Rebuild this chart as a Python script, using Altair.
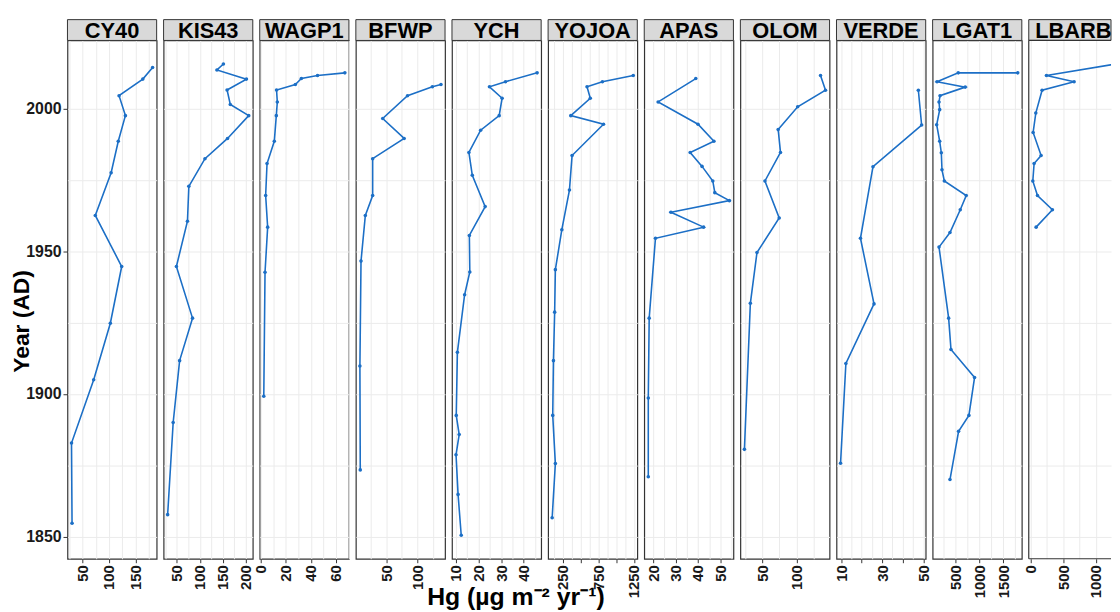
import json
import altair as alt
import pandas as pd

FONT = "Liberation Sans"
BLUE = "#1C6FC6"
BORDER = "#333333"

SITES = ["CY40", "KIS43", "WAGP1", "BFWP", "YCH", "YOJOA", "APAS", "OLOM", "VERDE", "LGAT1", "LBARB"]

cy40_year = [2014.5, 2010.4, 2004.6, 1997.6, 1988.6, 1977.6, 1962.6, 1944.7, 1924.8, 1905.0, 1882.8, 1854.7]
cy40_hg = [182.5, 164, 119, 131, 117.5, 104, 74, 124, 102.5, 71, 29, 30]

kis43_year = [2015.7, 2013.6, 2010.4, 2006.6, 2001.5, 1997.6, 1989.6, 1982.5, 1972.8, 1960.6, 1944.7, 1926.6, 1911.7, 1890.0, 1857.7]
kis43_hg = [151, 137, 201, 159, 166, 206, 160, 111, 76, 73, 49, 84, 56, 42, 30]

wagp1_year = [2012.6, 2011.7, 2010.6, 2008.5, 2006.6, 2002.4, 1997.6, 1988.6, 1980.8, 1969.6, 1958.5, 1942.7, 1899.2]
wagp1_hg = [67.1, 45.3, 32.4, 27.6, 12.6, 13.2, 12.4, 10.8, 5.0, 3.9, 5.5, 3.4, 2.4]

bfwp_year = [2008.5, 2007.7, 2004.6, 1996.6, 1989.6, 1982.5, 1969.6, 1962.6, 1946.6, 1909.8, 1873.4]
bfwp_hg = [138.5, 124.5, 84.2, 44.0, 78.8, 27.7, 27.7, 15.8, 8.8, 7.0, 7.6]

ych_year = [2012.6, 2009.5, 2007.7, 2003.7, 1997.6, 1992.5, 1984.7, 1976.7, 1965.7, 1955.6, 1942.8, 1934.8, 1914.6, 1892.5, 1885.8, 1878.7, 1864.8, 1850.5]
ych_hg = [45.9, 31.9, 24.8, 30.4, 29.1, 20.9, 15.7, 17.2, 22.9, 15.9, 16.1, 13.8, 10.6, 10.1, 11.4, 10.0, 10.9, 12.3]

yojoa_year = [2011.7, 2009.5, 2007.7, 2003.7, 1997.6, 1994.6, 1983.6, 1971.5, 1957.6, 1943.6, 1928.7, 1911.7, 1892.5, 1875.6, 1856.6]
yojoa_hg = [1240, 806, 590, 636, 362, 822, 380, 343, 236, 145, 135, 118, 108, 145, 100]

apas_year = [2010.6, 2002.4, 1994.6, 1988.6, 1984.7, 1979.8, 1974.7, 1970.6, 1967.8, 1963.7, 1958.5, 1954.6, 1926.6, 1898.6, 1871.0]
apas_hg = [39.0, 22.2, 40.0, 47.1, 36.5, 41.8, 46.6, 47.5, 54.0, 27.9, 42.5, 21.0, 18.2, 17.8, 17.8]

olom_year = [2011.7, 2006.5, 2000.7, 1992.7, 1984.7, 1974.7, 1961.7, 1949.6, 1931.8, 1880.6]
olom_hg = [135.4, 142.7, 101.9, 73.3, 76.7, 53.9, 74.8, 42.2, 32.5, 23.8]

verde_year = [2006.5, 1994.3, 1979.7, 1954.6, 1931.6, 1910.7, 1875.7]
verde_hg = [47.6, 49.2, 25.5, 19.4, 26.0, 12.3, 9.7]

lgat1_year = [2012.6, 2012.6, 2009.5, 2007.6, 2004.6, 2002.4, 1999.7, 1994.4, 1988.6, 1984.6, 1978.6, 1974.7, 1969.6, 1964.6, 1956.6, 1951.5, 1926.6, 1915.6, 1905.8, 1892.5, 1886.9, 1870.0]
lgat1_hg = [1806, 562, 118, 708, 181, 160, 174, 111, 174, 208, 222, 271, 729, 604, 389, 160, 361, 410, 903, 785, 569, 389]

lbarb_year = [2015.6, 2011.7, 2009.5, 2006.5, 1998.5, 1991.7, 1983.6, 1980.8, 1974.7, 1969.6, 1964.6, 1958.5]
lbarb_hg = [1280, 241, 667, 174, 77, 36, 159, 51, 31, 103, 333, 82]

YEARS = {"CY40": cy40_year, "KIS43": kis43_year, "WAGP1": wagp1_year, "BFWP": bfwp_year,
         "YCH": ych_year, "YOJOA": yojoa_year, "APAS": apas_year, "OLOM": olom_year,
         "VERDE": verde_year, "LGAT1": lgat1_year, "LBARB": lbarb_year}
HG = {"CY40": cy40_hg, "KIS43": kis43_hg, "WAGP1": wagp1_hg, "BFWP": bfwp_hg,
      "YCH": ych_hg, "YOJOA": yojoa_hg, "APAS": apas_hg, "OLOM": olom_hg,
      "VERDE": verde_hg, "LGAT1": lgat1_hg, "LBARB": lbarb_hg}

# x tick labels per panel, unlabeled major ticks, minor grid lines
x_labels = {"CY40": [50, 100, 150], "KIS43": [50, 100, 150, 200], "WAGP1": [0, 20, 40, 60],
            "BFWP": [50, 100], "YCH": [10, 20, 30, 40], "YOJOA": [250, 750, 1250],
            "APAS": [20, 30, 40, 50], "OLOM": [50, 100], "VERDE": [10, 30, 50],
            "LGAT1": [500, 1000, 1500], "LBARB": [0, 500, 1000]}
x_unlabeled = {"YOJOA": [500, 1000], "VERDE": [20, 40]}
x_minor = {"CY40": [25, 75, 125, 175], "KIS43": [25, 75, 125, 175], "WAGP1": [10, 30, 50, 70],
           "BFWP": [25, 75, 125], "YCH": [15, 25, 35, 45], "YOJOA": [125, 375, 625, 875, 1125],
           "APAS": [25, 35, 45, 55], "OLOM": [25, 75, 125], "VERDE": [15, 25, 35, 45],
           "LGAT1": [250, 750, 1250, 1750], "LBARB": [250, 750, 1250]}

y_labels = [1850, 1900, 1950, 2000]
y_minor = [1875, 1925, 1975]

X_TITLE = "Hg (µg m⁻² yr⁻¹)"
Y_TITLE = "Year (AD)"

PW, PH, SH = 90, 523, 21
LAST_W = 83  # the last panel is cut by the picture's right edge

all_years = [y for s in SITES for y in YEARS[s]]
ylo, yhi = min(all_years), max(all_years)
ypad = 0.05 * (yhi - ylo)
ydom = [ylo - ypad, yhi + ypad]
y_all = sorted(v for v in y_labels + y_minor if ydom[0] <= v <= ydom[1])


def opacity_cond(vals):
    return {"condition": {"test": f"indexof({json.dumps(vals)}, datum.value) >= 0", "value": 1}, "value": 0}


def label_expr(vals):
    return f"indexof({json.dumps(vals)}, datum.value) >= 0 ? datum.label : ''"


def make_panel(i, site):
    last = i == len(SITES) - 1
    w = LAST_W if last else PW
    yrs, vals = YEARS[site], HG[site]
    df = pd.DataFrame({"year": yrs, "hg": vals, "ord": list(range(len(yrs)))})
    lo, hi = min(vals), max(vals)
    pad = 0.05 * (hi - lo)
    x0, x1 = lo - pad, hi + pad
    xdom = [x0, x0 + (x1 - x0) * w / PW]
    inside = lambda v: xdom[0] <= v <= xdom[1]
    lab = [v for v in x_labels[site] if inside(v)]
    major = sorted(v for v in x_labels[site] + x_unlabeled.get(site, []) if inside(v))
    allv = sorted(v for v in major + x_minor[site] if inside(v))

    xkw = dict(values=allv, format="d", labelExpr=label_expr(lab), tickOpacity=opacity_cond(major),
               labelAngle=270, labelAlign="right", labelBaseline="middle", labelFlush=False,
               labelOverlap=False, labelBound=False, tickSize=4, labelPadding=2,
               labelFontSize=15, labelFontWeight="bold", domain=False, grid=True)
    if site == "YCH":
        xkw.update(title=X_TITLE, titleX=64, titleY=46, titleAlign="center",
                   titleBaseline="alphabetic", titleFontSize=25, titleFontWeight="bold",
                   titleColor="black")
    else:
        xkw.update(title=None)
    xaxis = alt.Axis(**xkw)

    if i == 0:
        yaxis = alt.Axis(values=y_all, format="d", labelExpr=label_expr(y_labels),
                         tickOpacity=opacity_cond(y_labels), title=Y_TITLE, titleX=-34, titleY=283,
                         titleAngle=270, titleAlign="center", titleBaseline="bottom",
                         titleFontSize=23, titleFontWeight="bold", titleColor="black",
                         labelFontSize=16, labelFontWeight="bold", tickSize=4.5, labelPadding=2,
                         domain=False, grid=True)
    else:
        yaxis = alt.Axis(values=y_all, labels=False, ticks=False, domain=False, title=None, grid=True)

    base = alt.Chart(df).encode(
        x=alt.X("hg:Q", scale=alt.Scale(domain=xdom, nice=False, zero=False), axis=xaxis),
        y=alt.Y("year:Q", scale=alt.Scale(domain=ydom, nice=False, zero=False), axis=yaxis),
        order=alt.Order("ord:Q"),
    )
    line = base.mark_line(color=BLUE, strokeWidth=1.6, clip=True)
    pts = base.mark_circle(color=BLUE, size=13, opacity=1, clip=True)

    sdf = pd.DataFrame({"site": [site]})
    strip_bg = alt.Chart(sdf).mark_rect(fill="#D9D9D9", stroke=BORDER, strokeWidth=1).encode(
        x=alt.value(0), x2=alt.value(w), y=alt.value(-SH), y2=alt.value(0)
    )
    strip_txt = alt.Chart(sdf).mark_text(
        font=FONT, fontSize=22, fontWeight="bold", color="black", baseline="alphabetic", align="center"
    ).encode(text="site:N", x=alt.value(PW / 2), y=alt.value(-2))
    layers = [line, pts, strip_bg, strip_txt]
    if last:
        rule = alt.Chart(sdf).mark_rule(color=BORDER, strokeWidth=1.2)
        layers += [
            rule.encode(x=alt.value(0), y=alt.value(0), y2=alt.value(PH)),
            rule.encode(x=alt.value(0), x2=alt.value(w), y=alt.value(0)),
            rule.encode(x=alt.value(0), x2=alt.value(w), y=alt.value(PH)),
        ]
        return alt.layer(*layers).properties(width=w, height=PH,
                                             view=alt.ViewBackground(strokeOpacity=0))
    return alt.layer(*layers).properties(width=w, height=PH)


cols = [make_panel(i, s) for i, s in enumerate(SITES)]
chart = alt.hconcat(*cols, spacing=7, bounds="flush").properties(
    padding={"left": 2, "top": 7, "right": 0, "bottom": 0}, background="white"
).configure_view(stroke=BORDER, strokeWidth=1.2).configure_axis(
    gridColor="#EBEBEB", gridWidth=1, tickColor=BORDER, labelColor="#1a1a1a",
    labelFont=FONT, titleFont=FONT
)

chart.save("out.html", embed_options={"renderer": "svg", "actions": False})
